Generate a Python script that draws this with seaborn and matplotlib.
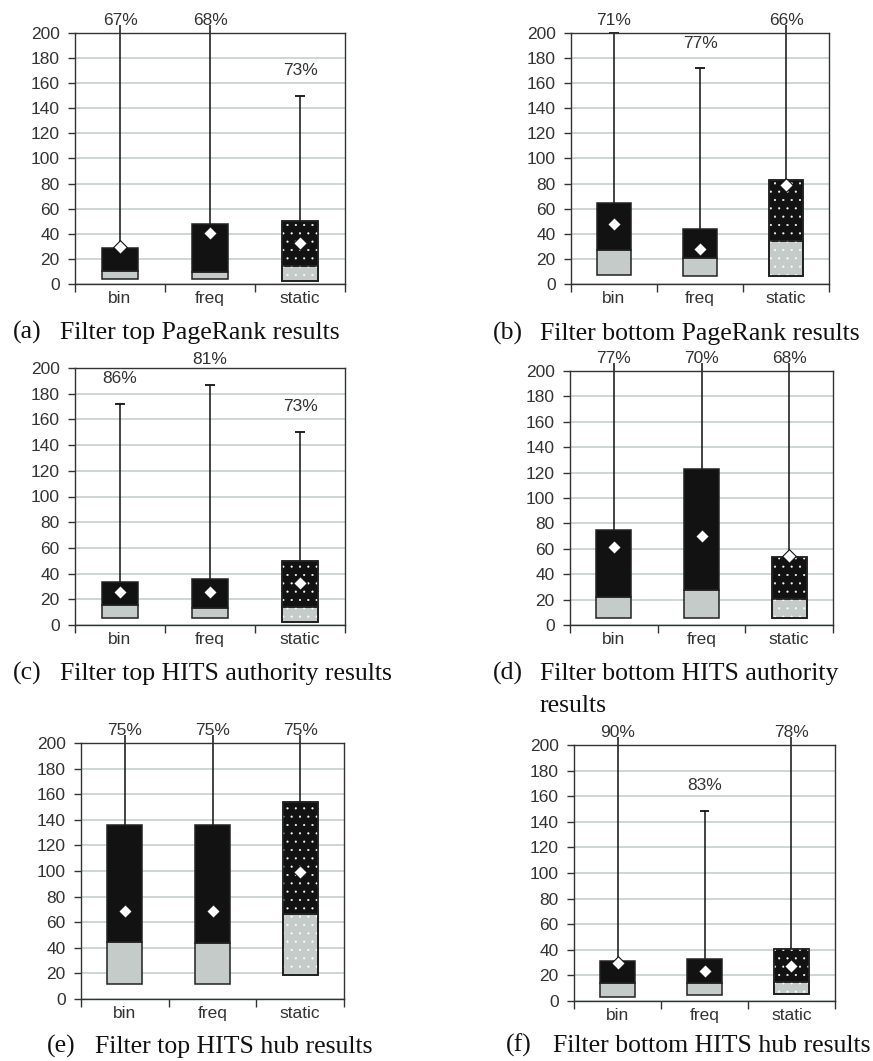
import numpy as np
import pandas as pd
import matplotlib
matplotlib.use("Agg")
import matplotlib.pyplot as plt
import seaborn as sns

# ---- data -------------------------------------------------------------
categories = ["bin", "freq", "static"]
panel_tags = ["(a)", "(b)", "(c)", "(d)", "(e)", "(f)"]
panel_titles = [
    ["Filter top PageRank results"],
    ["Filter bottom PageRank results"],
    ["Filter top HITS authority results"],
    ["Filter bottom HITS authority", "results"],
    ["Filter top HITS hub results"],
    ["Filter bottom HITS hub results"],
]

OFF = np.inf  # whisker continues past the top of the scale

box_low = [
    [3.7, 3.7, 2.4],
    [7.2, 6.1, 6.1],
    [5.2, 5.2, 2.4],
    [5.2, 5.2, 5.2],
    [11.4, 11.4, 18.7],
    [3.4, 4.4, 5.2],
]
box_median = [
    [10.3, 9.3, 14.6],
    [27.2, 20.8, 34.4],
    [15.3, 13.2, 14.3],
    [21.8, 27.8, 20.5],
    [44.4, 43.4, 66.2],
    [13.8, 13.8, 15.1],
]
box_q3 = [
    [28.9, 47.7, 50.0],
    [64.2, 44.2, 82.6],
    [33.7, 36.0, 49.7],
    [74.5, 122.8, 53.5],
    [136.1, 136.1, 154.0],
    [31.5, 32.6, 40.9],
]
means = [
    [29.7, 40.8, 32.4],
    [47.9, 28.0, 79.0],
    [25.9, 25.9, 32.4],
    [61.7, 69.8, 54.6],
    [69.1, 69.1, 99.0],
    [29.4, 23.7, 27.3],
]
whisker_top = [
    [OFF, OFF, 150.0],
    [200.0, 172.0, OFF],
    [172.0, 187.0, 150.0],
    [OFF, OFF, OFF],
    [OFF, OFF, OFF],
    [OFF, 148.4, OFF],
]
pct_labels = [
    [67, 68, 73],
    [71, 77, 66],
    [86, 81, 73],
    [77, 70, 68],
    [75, 75, 75],
    [90, 83, 78],
]
y_ticks = list(range(0, 201, 20))

# ---- style ------------------------------------------------------------
sns.set_theme(style="whitegrid")
plt.rcParams["font.family"] = ["Liberation Sans", "DejaVu Sans"]
plt.rcParams["hatch.linewidth"] = 0.3

W, H = 873, 1061
GRAY = "#c4cbc9"
BLACK = "#121212"
EDGE = "#222222"
TEXT = "#333333"
GRID = "#c9d3d3"
SERIF = ["Liberation Serif", "DejaVu Serif"]
CAPTION_SIZE = 18.5

fig = plt.figure(figsize=(W / 100, H / 100), dpi=100)
fig.patch.set_facecolor("white")

# axes frames in pixels: left, top, right, bottom
axes_px = [
    (75, 33, 345, 284),
    (571, 33, 829, 284),
    (75, 368, 345, 625),
    (570, 371, 833, 625),
    (81, 743, 344, 999),
    (574, 745, 835, 1001),
]
# caption anchors in pixels: tag x, title x, baseline y
caption_px = [
    (13, 60, 339),
    (493, 540, 340),
    (13, 60, 680),
    (493, 540, 680),
    (47, 95, 1053),
    (506, 553, 1052),
]
LINE_STEP = 32  # pixels between wrapped caption lines

BAR_W = 0.4
CAP_W = 0.11
TOP_END = 206.0     # where an off-scale whisker stops, under its label
LABEL_MAX = 210.0

for i in range(6):
    l, t, r, b = axes_px[i]
    ax = fig.add_axes([l / W, 1 - b / H, (r - l) / W, (b - t) / H])
    ax.set_facecolor("white")

    df = pd.DataFrame({
        "method": categories,
        "low": box_low[i],
        "median": box_median[i],
        "q3": box_q3[i],
        "mean": means[i],
        "top": whisker_top[i],
        "pct": pct_labels[i],
    })
    df["lower_h"] = df["median"] - df["low"]
    df["upper_h"] = df["q3"] - df["median"]

    # lower box (gray) and upper box (black)
    sns.barplot(data=df, x="method", y="lower_h", bottom=df["low"].to_numpy(),
                color=GRAY, saturation=1, width=BAR_W, errorbar=None,
                edgecolor=EDGE, linewidth=1.1, ax=ax, zorder=3)
    sns.barplot(data=df, x="method", y="upper_h", bottom=df["median"].to_numpy(),
                color=BLACK, saturation=1, width=BAR_W, errorbar=None,
                edgecolor=EDGE, linewidth=1.1, ax=ax, zorder=3)

    # dotted texture on the "static" box
    s = df.iloc[2]
    ax.bar([2], [s["q3"] - s["low"]], bottom=[s["low"]], width=BAR_W,
           facecolor="none", edgecolor="white", linewidth=0, hatch="..",
           zorder=3.2)
    ax.bar([2], [s["median"] - s["low"]], bottom=[s["low"]], width=BAR_W,
           fill=False, edgecolor=EDGE, linewidth=1.1, zorder=3.4)
    ax.bar([2], [s["q3"] - s["low"]], bottom=[s["low"]], width=BAR_W,
           fill=False, edgecolor=EDGE, linewidth=1.1, zorder=3.4)

    # whiskers, caps and value labels
    for k, row in df.iterrows():
        top = row["top"]
        if np.isfinite(top):
            end = top
            ax.hlines(top, k - CAP_W / 2, k + CAP_W / 2, color="#111111",
                      linewidth=1.3, zorder=2.5, clip_on=False)
            label_y = min(top + 20, LABEL_MAX)
        else:
            end = TOP_END
            label_y = LABEL_MAX
        ax.vlines(k, row["q3"], end, color="#111111", linewidth=1.1,
                  zorder=2.5, clip_on=False)
        ax.text(k, label_y, f"{int(row['pct'])}%", ha="center", va="center",
                fontsize=12.5, color=TEXT, zorder=6, clip_on=False)

    # means
    sns.scatterplot(data=df, x="method", y="mean", marker="D", s=48,
                    color="white", edgecolor="#111111", linewidth=0.8,
                    zorder=5, ax=ax, legend=False)

    # axes cosmetics
    ax.set_xlim(-0.5, 2.5)
    ax.set_ylim(0, 200)
    ax.set_yticks(y_ticks)
    ax.set_yticklabels([str(v) for v in y_ticks])
    ax.set_xticks([-0.5, 0.5, 1.5, 2.5])
    ax.set_xticklabels([])
    ax.set_xticks([0, 1, 2], minor=True)
    ax.set_xticklabels(categories, minor=True)
    ax.set_xlabel("")
    ax.set_ylabel("")
    ax.grid(False)
    ax.yaxis.grid(True, color=GRID, linewidth=1.3)
    ax.set_axisbelow(True)
    ax.tick_params(axis="y", which="major", direction="out", length=5,
                   width=1, color=TEXT, labelsize=12.5, labelcolor=TEXT, pad=6,
                   left=True)
    ax.tick_params(axis="x", which="major", direction="out", length=6,
                   width=1, color=TEXT, bottom=True)
    ax.tick_params(axis="x", which="minor", length=0, labelsize=12.5,
                   labelcolor=TEXT, pad=5)
    for sp in ax.spines.values():
        sp.set_visible(True)
        sp.set_color(TEXT)
        sp.set_linewidth(1.0)

    # caption
    tx, mx, by = caption_px[i]
    fig.text(tx / W, 1 - by / H, panel_tags[i], ha="left", va="baseline",
             fontsize=CAPTION_SIZE, family=SERIF, color="#111111")
    for j, line in enumerate(panel_titles[i]):
        fig.text(mx / W, 1 - (by + j * LINE_STEP) / H, line, ha="left",
                 va="baseline", fontsize=CAPTION_SIZE, family=SERIF,
                 color="#111111")

fig.savefig("out.png", dpi=100, facecolor="white")
